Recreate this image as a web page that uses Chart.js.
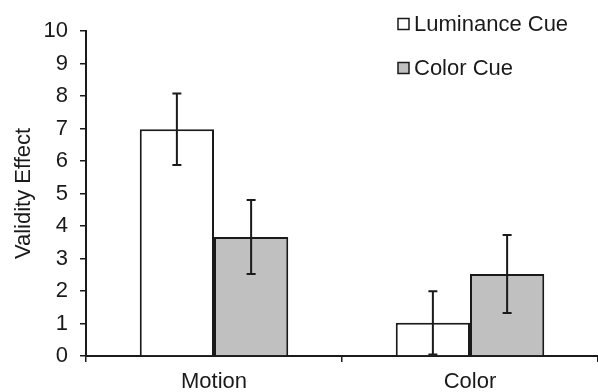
<!DOCTYPE html>
<html>
<head>
<meta charset="utf-8">
<script src="https://cdn.jsdelivr.net/npm/chart.js@4.4.1/dist/chart.umd.min.js"></script>
<style>
  html, body { margin: 0; padding: 0; background: #fff; }
  #wrap { width: 598px; height: 392px; }
</style>
</head>
<body>
<div id="wrap"><canvas id="grafica"></canvas></div>
<script>
// Datos
const categorias = ['Motion', 'Color'];
const luminanceCue = [6.98, 1.02];
const colorCue = [3.66, 2.52];
const luminanceErr = [1.1, 0.97];
const colorErr = [1.14, 1.2];
const yTicks = [0, 1, 2, 3, 4, 5, 6, 7, 8, 9, 10];

const fuente = 'Liberation Sans, Arial, sans-serif';
const tinta = '#1a1a1a';

// Barras de error dibujadas con la escala de la gráfica
const errorBars = {
    id: 'errorBars',
    afterDatasetsDraw(chart) {
        const ctx = chart.ctx;
        const y = chart.scales.y;
        chart.data.datasets.forEach((ds, i) => {
            const meta = chart.getDatasetMeta(i);
            meta.data.forEach((bar, j) => {
                const v = ds.data[j];
                const e = ds.errores[j];
                const top = y.getPixelForValue(v + e);
                const bot = y.getPixelForValue(v - e);
                ctx.save();
                ctx.strokeStyle = tinta;
                ctx.lineWidth = 2;
                ctx.beginPath();
                ctx.moveTo(bar.x, top);
                ctx.lineTo(bar.x, bot);
                ctx.moveTo(bar.x - 4.5, top);
                ctx.lineTo(bar.x + 4.5, top);
                ctx.moveTo(bar.x - 4.5, bot);
                ctx.lineTo(bar.x + 4.5, bot);
                ctx.stroke();
                ctx.restore();
            });
        });
    }
};

// Leyenda en la esquina superior derecha
const leyenda = {
    id: 'leyenda',
    afterDraw(chart) {
        const ctx = chart.ctx;
        ctx.save();
        ctx.font = '22px ' + fuente;
        ctx.textBaseline = 'middle';
        chart.data.datasets.forEach((ds, i) => {
            const cy = 24 + i * 44;
            ctx.fillStyle = ds.backgroundColor;
            ctx.fillRect(398, cy - 5.5, 11, 11);
            ctx.strokeStyle = tinta;
            ctx.lineWidth = 1.5;
            ctx.strokeRect(398, cy - 5.5, 11, 11);
            ctx.fillStyle = tinta;
            ctx.fillText(ds.label, 414, cy + 1);
        });
        ctx.restore();
    }
};

const ctx = document.getElementById('grafica').getContext('2d');
new Chart(ctx, {
    type: 'bar',
    data: {
        labels: categorias,
        datasets: [{
            label: 'Luminance Cue',
            data: luminanceCue,
            errores: luminanceErr,
            backgroundColor: '#ffffff',
            borderColor: tinta,
            borderWidth: 2,
            categoryPercentage: 0.58,
            barPercentage: 1.0
        }, {
            label: 'Color Cue',
            data: colorCue,
            errores: colorErr,
            backgroundColor: '#c0c0c0',
            borderColor: tinta,
            borderWidth: 2,
            categoryPercentage: 0.58,
            barPercentage: 1.0
        }]
    },
    options: {
        responsive: true,
        maintainAspectRatio: false,
        animation: false,
        layout: { padding: { top: 31, left: 0, right: -5, bottom: 0 } },
        plugins: {
            legend: { display: false },
            tooltip: { enabled: false }
        },
        scales: {
            x: {
                offset: true,
                border: { color: tinta, width: 2 },
                grid: {
                    offset: true,
                    drawOnChartArea: false,
                    drawTicks: true,
                    tickLength: 6,
                    color: tinta,
                    lineWidth: 1.5
                },
                ticks: {
                    color: tinta,
                    font: { family: fuente, size: 22 },
                    padding: 7
                },
                afterFit(scale) { scale.height = 36; }
            },
            y: {
                min: 0,
                max: 10,
                afterBuildTicks(scale) { scale.ticks = yTicks.map(v => ({ value: v })); },
                border: { color: tinta, width: 2 },
                grid: {
                    drawOnChartArea: false,
                    drawTicks: true,
                    tickLength: 6,
                    color: tinta,
                    lineWidth: 1.5
                },
                ticks: {
                    color: tinta,
                    font: { family: fuente, size: 22 },
                    padding: 12
                },
                title: {
                    display: true,
                    text: 'Validity Effect',
                    color: tinta,
                    font: { family: fuente, size: 22 },
                    padding: { top: 11, bottom: 0 }
                },
                afterFit(scale) { scale.width = 86; }
            }
        }
    },
    plugins: [errorBars, leyenda]
});
</script>
</body>
</html>
